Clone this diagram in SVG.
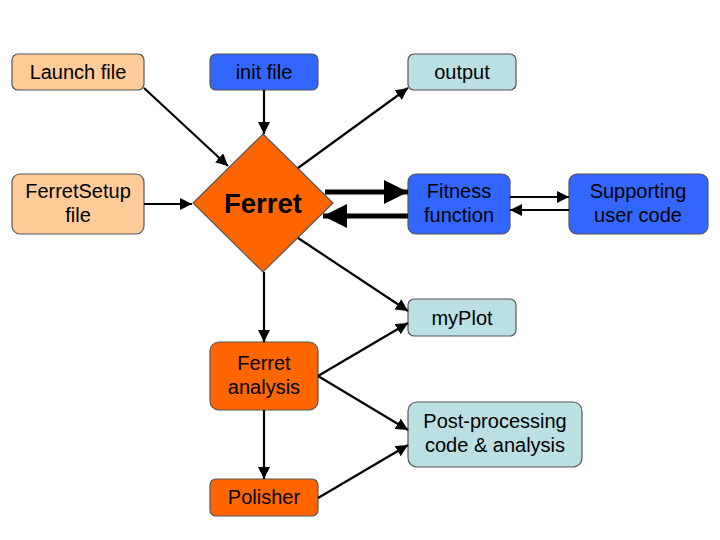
<svg xmlns="http://www.w3.org/2000/svg" width="720" height="540" viewBox="0 0 720 540">
<defs>
<marker id="ah" viewBox="0 0 10 10" refX="10" refY="5" markerWidth="5.5" markerHeight="5.5" orient="auto" markerUnits="strokeWidth"><path d="M0,0 L10,5 L0,10 z" fill="#000"/></marker>
<marker id="ahb" viewBox="0 0 10 10" refX="10" refY="5" markerWidth="5" markerHeight="4.8" orient="auto" markerUnits="strokeWidth"><path d="M0,0 L10,5 L0,10 z" fill="#000"/></marker>
</defs>
<style>
.n{stroke:#555;stroke-width:1.2}
.lo{fill:#FFCC99}
.bl{fill:#3366FF}
.cy{fill:#BBE0E3}
.or{fill:#FF6600}
text{font-family:"Liberation Sans",Arial,sans-serif;font-size:20px;fill:#000;text-anchor:middle}
.c line{stroke:#000;stroke-width:2.2;marker-end:url(#ah)}
.c line.t{stroke-width:5;marker-end:url(#ahb)}
</style>
<rect width="720" height="540" fill="#fff"/>
<g id="launch"><rect class="n lo" x="12" y="54" width="132" height="36" rx="6"/><text x="78" y="79">Launch file</text></g>
<g id="init"><rect class="n bl" x="210" y="54" width="108" height="36" rx="6"/><text x="264" y="79">init file</text></g>
<g id="output"><rect class="n cy" x="408" y="54" width="108" height="36" rx="6"/><text x="462" y="79">output</text></g>
<g id="setup"><rect class="n lo" x="12" y="174" width="132" height="60" rx="8"/><text x="78" y="198">FerretSetup</text><text x="78" y="222">file</text></g>
<g id="ferret"><polygon class="n or" points="263,134 333,203 263,272 193,203"/><text x="263" y="213" style="font-size:27.5px;font-weight:bold">Ferret</text></g>
<g id="fitness"><rect class="n bl" x="408" y="174" width="102" height="60" rx="8"/><text x="459" y="198">Fitness</text><text x="459" y="222">function</text></g>
<g id="support"><rect class="n bl" x="569" y="174" width="139" height="60" rx="8"/><text x="638" y="198">Supporting</text><text x="638" y="222">user code</text></g>
<g id="myplot"><rect class="n cy" x="408" y="299" width="108" height="37" rx="6"/><text x="462" y="325">myPlot</text></g>
<g id="analysis"><rect class="n or" x="210" y="342" width="108" height="68" rx="9"/><text x="264" y="370">Ferret</text><text x="264" y="394">analysis</text></g>
<g id="post"><rect class="n cy" x="408" y="402" width="174" height="65" rx="9"/><text x="495" y="428">Post-processing</text><text x="495" y="452">code &amp; analysis</text></g>
<g id="polisher"><rect class="n or" x="210" y="479" width="108" height="37" rx="6"/><text x="264" y="504">Polisher</text></g>
<g class="c" id="connectors">
<line x1="144" y1="88" x2="228" y2="166"/>
<line x1="264" y1="90" x2="264" y2="134"/>
<line x1="144" y1="204" x2="192" y2="204"/>
<line x1="298" y1="168" x2="408" y2="88"/>
<line x1="298" y1="238" x2="408" y2="311"/>
<line x1="264" y1="272" x2="264" y2="342"/>
<line x1="318" y1="376" x2="408" y2="323"/>
<line x1="318" y1="376" x2="408" y2="430"/>
<line x1="264" y1="410" x2="264" y2="479"/>
<line x1="318" y1="498" x2="408" y2="445"/>
<line class="t" x1="325" y1="192" x2="408" y2="192"/>
<line class="t" x1="408" y1="216" x2="323" y2="216"/>
<line x1="510" y1="197" x2="569" y2="197"/>
<line x1="569" y1="210" x2="510" y2="210"/>
</g>
</svg>
